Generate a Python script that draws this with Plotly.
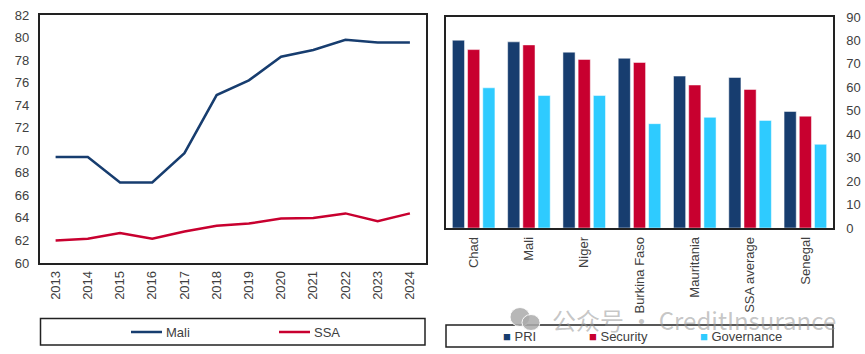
import plotly.graph_objects as go

years = ["2013","2014","2015","2016","2017","2018","2019","2020","2021","2022","2023","2024"]
mali = [69.4,69.4,67.15,67.15,69.75,74.9,76.2,78.3,78.9,79.8,79.55,79.55]
ssa = [62.0,62.15,62.65,62.15,62.8,63.3,63.5,63.95,64.0,64.4,63.7,64.4]

countries = ["Chad","Mali","Niger","Burkina Faso","Mauritania","SSA average","Senegal"]
pri = [80.1,79.4,75.0,72.4,64.8,64.2,49.7]
security = [76.1,78.1,71.9,70.6,61.0,59.1,47.7]
governance = [59.8,56.5,56.5,44.5,47.2,45.9,35.7]

W, H = 865, 354
NAVY, RED, SKY = "#173d6f", "#c8002f", "#2ecbff"
INK = "#404040"
FONT = dict(family="Liberation Sans", size=13, color=INK)

def px(x): return x / W
def py(y): return 1 - y / H

fig = go.Figure()
fig.add_trace(go.Scatter(x=years, y=mali, name="Mali", mode="lines", line=dict(color=NAVY, width=2.5), xaxis="x", yaxis="y"))
fig.add_trace(go.Scatter(x=years, y=ssa, name="SSA", mode="lines", line=dict(color=RED, width=2.5), xaxis="x", yaxis="y"))
for name, vals, col in [("PRI", pri, NAVY), ("Security", security, RED), ("Governance", governance, SKY)]:
    fig.add_trace(go.Bar(x=countries, y=vals, name=name,
                         marker=dict(color=col, line=dict(color="white", width=0.5)), xaxis="x2", yaxis="y2"))

axis_line = dict(showline=True, linecolor="#222222", linewidth=1.5, mirror=True, showgrid=False, zeroline=False,
                 automargin=False, ticks="outside", ticklen=6, tickcolor="rgba(0,0,0,0)", tickfont=FONT)

box = dict(type="rect", xref="paper", yref="paper", line=dict(color="#222222", width=1.5), fillcolor="rgba(0,0,0,0)", layer="below")
shapes = [
    dict(box, x0=px(40.5), x1=px(425), y0=py(345), y1=py(318.5)),
    dict(box, x0=px(446), x1=px(833), y0=py(347), y1=py(325)),
]
# legend keys of the line panel
for x0, col in [(131, NAVY), (279, RED)]:
    shapes.append(dict(type="line", xref="paper", yref="paper", x0=px(x0), x1=px(x0 + 31), y0=py(332), y1=py(332),
                       line=dict(color=col, width=2.5)))
# WeChat logo of the watermark
for cx, cy, rx, ry in [(520, 317, 10, 9.5), (531, 322.5, 9, 8)]:
    shapes.append(dict(type="circle", xref="paper", yref="paper", x0=px(cx-rx), x1=px(cx+rx), y0=py(cy+ry), y1=py(cy-ry),
                       fillcolor="rgba(170,170,170,0.85)", line=dict(color="rgba(255,255,255,0.9)", width=1), layer="above"))

def legend_text(x, y, text):
    return dict(text=text, xref="paper", yref="paper", x=px(x), y=py(y),
                xanchor="left", yanchor="middle", showarrow=False, font=FONT)

def legend_item(x, label, col):
    return legend_text(x, 336, f'<span style="color:{col}">■</span> {label}')

fig.update_layout(
    width=W, height=H, autosize=False, showlegend=False,
    margin=dict(l=0, r=0, t=0, b=0),
    paper_bgcolor="white", plot_bgcolor="white",
    font=FONT,
    barmode="group", bargap=0.175, bargroupgap=0.2,
    xaxis=dict(axis_line, domain=[px(39.5), px(426)], anchor="y", type="category", tickangle=-90, range=[-0.5, 11.5], ticklen=1),
    yaxis=dict(axis_line, domain=[py(263), py(15)], anchor="x", range=[60, 82], tickvals=list(range(60, 84, 2))),
    xaxis2=dict(axis_line, domain=[px(446), px(833)], anchor="y2", type="category", tickangle=-90, ticklen=2),
    yaxis2=dict(axis_line, domain=[py(228), py(17)], anchor="x2", side="right", range=[0, 90], tickvals=list(range(0, 100, 10)), ticklen=9),
    shapes=shapes,
    annotations=[
        dict(text="公众号 · CreditInsurance", xref="paper", yref="paper", x=px(550), y=py(319), xanchor="left", yanchor="middle",
             showarrow=False, font=dict(family="Noto Sans CJK SC", size=24, color="rgba(150,150,150,0.55)")),
        legend_text(164, 332, "Mali"),
        legend_text(312, 332, "SSA"),
        legend_item(501, "PRI", NAVY),
        legend_item(587, "Security", RED),
        legend_item(698, "Governance", SKY),
    ],
)
fig.write_html("out.html", config=dict(displayModeBar=False), post_script="document.body.style.margin='0';")
